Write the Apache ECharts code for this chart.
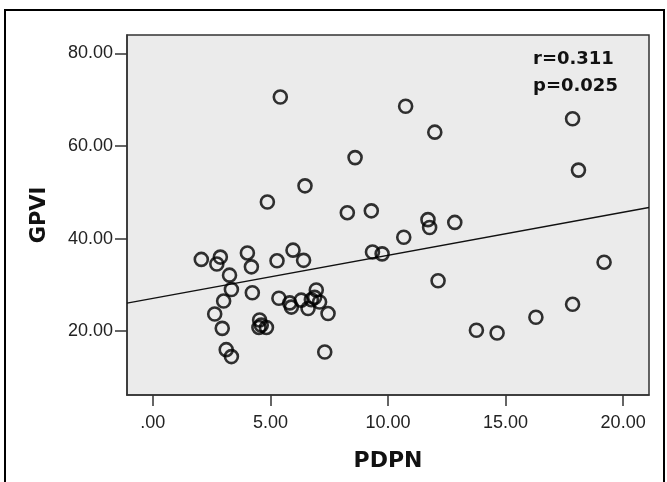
<!DOCTYPE html>
<html>
<head>
<meta charset="utf-8">
<script src="https://cdn.jsdelivr.net/npm/echarts@6/dist/echarts.min.js"></script>
<style>
  html, body { margin: 0; padding: 0; background: #fff; }
  #chart { width: 667px; height: 482px; }
</style>
</head>
<body>
<div id="chart"></div>
<script>
// PDPN vs GPVI
const pdpn = [
  2.06, 2.87, 2.72, 3.26, 3.34, 3.01, 2.63, 2.95, 3.12, 3.34,
  4.02, 4.19, 4.23, 5.28, 5.96, 6.41, 5.36, 5.82, 5.89, 6.31,
  6.60, 6.74, 6.95, 6.88, 7.09, 7.45, 7.31, 4.54, 4.61, 4.83,
  4.51, 5.42, 8.60, 6.47, 4.87, 8.27, 9.29, 9.34, 9.75, 10.67,
  10.75, 11.99, 11.70, 11.77, 12.84, 17.85, 18.10, 12.13, 13.76, 14.64,
  16.29, 17.85, 19.19
];
const gpvi = [
  35.5, 36.0, 34.5, 32.1, 29.0, 26.5, 23.7, 20.6, 16.0, 14.5,
  36.9, 33.9, 28.3, 35.2, 37.5, 35.3, 27.1, 26.1, 25.2, 26.7,
  24.9, 26.8, 28.9, 27.3, 26.3, 23.8, 15.5, 22.4, 21.3, 20.8,
  20.8, 70.6, 57.5, 51.4, 47.9, 45.6, 46.0, 37.1, 36.7, 40.3,
  68.6, 63.0, 44.1, 42.4, 43.5, 65.9, 54.8, 30.9, 20.2, 19.6,
  23.0, 25.8, 34.9
];

const xTicks = [0, 5, 10, 15, 20];
const xTickLabels = ['.00', '5.00', '10.00', '15.00', '20.00'];
const yTicks = [20, 40, 60, 80];
const yTickLabels = ['20.00', '40.00', '60.00', '80.00'];

const xMin = -1.1, xMax = 21.1;
const yMin = 6.2, yMax = 84;

// fit line as drawn in the reference
const fitIntercept = 27.1;
const fitSlope = 0.93;
const statsText = 'r=0.311\np=0.025';

const chart = echarts.init(document.getElementById('chart'));

const tickFont = { color: '#222', fontSize: 18, fontFamily: 'Liberation Sans' };

chart.setOption({
  animation: false,
  backgroundColor: '#fff',
  grid: {
    left: 127, right: 18, top: 35, bottom: 87,
    show: true,
    backgroundColor: '#ebebeb',
    borderColor: '#333',
    borderWidth: 1.5,
    outerBoundsMode: 'none',
  },
  xAxis: {
    type: 'value',
    min: xMin,
    max: xMax,
    name: 'PDPN',
    nameLocation: 'middle',
    nameGap: 55,
    nameTextStyle: { color: '#111', fontSize: 22, fontWeight: 'bold', fontFamily: 'DejaVu Sans' },
    splitLine: { show: false },
    axisLine: { show: true, onZero: false, lineStyle: { color: '#333', width: 1.5 } },
    axisTick: { show: true, customValues: xTicks, length: 11, lineStyle: { color: '#333', width: 1.5 } },
    axisLabel: {
      customValues: xTicks,
      margin: 19,
      ...tickFont,
      formatter: (v) => xTickLabels[xTicks.indexOf(v)] ?? '',
    },
  },
  yAxis: {
    type: 'value',
    min: yMin,
    max: yMax,
    name: 'GPVI',
    nameLocation: 'middle',
    nameRotate: 90,
    nameGap: 77,
    nameTextStyle: { color: '#111', fontSize: 21, fontWeight: 'bold', fontFamily: 'DejaVu Sans' },
    splitLine: { show: false },
    axisLine: { show: true, onZero: false, lineStyle: { color: '#333', width: 1.5 } },
    axisTick: { show: true, customValues: yTicks, length: 12, lineStyle: { color: '#333', width: 1.5 } },
    axisLabel: {
      customValues: yTicks,
      margin: 14,
      ...tickFont,
      formatter: (v) => yTickLabels[yTicks.indexOf(v)] ?? '',
    },
  },
  series: [
    {
      type: 'line',
      silent: true,
      symbol: 'none',
      lineStyle: { color: '#111', width: 1.3 },
      data: [
        [xMin, fitIntercept + fitSlope * xMin],
        [xMax, fitIntercept + fitSlope * xMax],
      ],
      z: 1,
    },
    {
      type: 'scatter',
      symbol: 'circle',
      symbolSize: 13,
      itemStyle: { color: 'rgba(0,0,0,0)', borderColor: '#000', borderWidth: 2.6 },
      data: pdpn.map((x, i) => [x, gpvi[i]]),
      z: 2,
    },
  ],
  graphic: [
    {
      type: 'rect',
      shape: { x: 5, y: 10, width: 659, height: 490 },
      style: { fill: null, stroke: '#000', lineWidth: 2 },
      silent: true,
    },
    {
      type: 'text',
      left: 533,
      top: 46,
      style: {
        text: statsText,
        fill: '#111',
        font: 'bold 18px "DejaVu Sans"',
        lineHeight: 27,
      },
      z: 10,
    },
  ],
});
</script>
</body>
</html>
